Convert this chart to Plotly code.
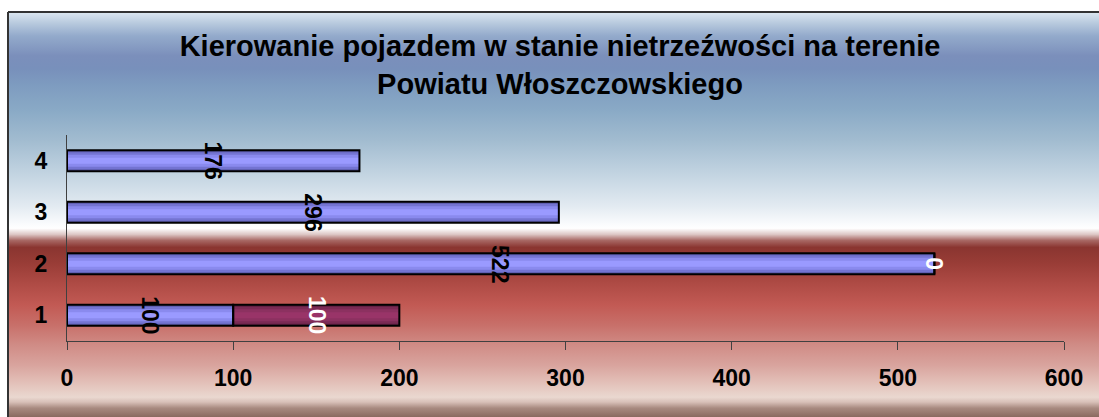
import base64
import plotly.graph_objects as go

# ---- data ----
categories = ["1", "2", "3", "4"]
series1 = [100, 522, 296, 176]
series2 = [100, 0, None, None]
title_lines = ["Kierowanie pojazdem w stanie nietrzeźwości na terenie", "Powiatu Włoszczowskiego"]
x_ticks = [0, 100, 200, 300, 400, 500, 600]

# ---- geometry (px) ----
W, H = 1099, 417
ML, MR, MT, MB = 67, 35, 135, 76
PW, PH = W - ML - MR, H - MT - MB


def px_x(px):
    return (px - ML) / PW


def px_y(py):
    return (H - MB - py) / PH


FONT = "Liberation Sans, Arial, sans-serif"

# background gradient as svg
stops = [
    (0.000, "#dae5ef"), (0.025, "#b8cade"), (0.057, "#93aacb"), (0.106, "#7b8fbb"),
    (0.138, "#7890bb"), (0.180, "#7e9cc0"), (0.242, "#8aaac6"), (0.316, "#a2bcd0"),
    (0.402, "#c4d5e2"), (0.477, "#e2eaf1"), (0.519, "#f8fafc"), (0.533, "#ffffff"),
    (0.548, "#ddc7c5"), (0.563, "#a86864"), (0.580, "#8a3530"), (0.617, "#983c36"),
    (0.674, "#b04c46"), (0.723, "#c25a54"), (0.773, "#c8706a"), (0.822, "#d08c86"),
    (0.872, "#d9a49e"), (0.921, "#e4c4bc"), (0.951, "#ead8d0"), (0.963, "#d8c0b8"),
    (0.978, "#a88a80"), (1.000, "#8a6a60"),
]
svg = ('<svg xmlns="http://www.w3.org/2000/svg" width="100" height="405" '
       'preserveAspectRatio="none" viewBox="0 0 100 405"><defs>'
       '<linearGradient id="g" x1="0" y1="0" x2="0" y2="1">'
       + "".join(f'<stop offset="{o}" stop-color="{c}"/>' for o, c in stops)
       + '</linearGradient></defs><rect x="0" y="0" width="100" height="405" fill="url(#g)"/></svg>')
bg_src = "data:image/svg+xml;base64," + base64.b64encode(svg.encode()).decode()

ycat = [int(c) for c in categories]
base2 = [a if b is not None else None for a, b in zip(series1, series2)]

fig = go.Figure()

layers1 = [(0.41, "#5a5aa8"), (0.33, "#7474d2"), (0.23, "#8a8aee"), (0.12, "#9a9aff")]
layers2 = [(0.41, "#5e1f40"), (0.33, "#7a2a54"), (0.23, "#8c3160"), (0.12, "#993468")]

for w, col in layers1:
    fig.add_trace(go.Bar(y=ycat, x=series1, base=[0] * len(series1), orientation="h",
                         width=w, marker=dict(color=col, line=dict(width=0)),
                         hoverinfo="skip", showlegend=False))
for w, col in layers2:
    fig.add_trace(go.Bar(y=ycat, x=series2, base=base2, orientation="h",
                         width=w, marker=dict(color=col, line=dict(width=0)),
                         hoverinfo="skip", showlegend=False))
# outlines
fig.add_trace(go.Bar(y=ycat, x=series1, base=[0] * len(series1), orientation="h", width=0.41,
                     marker=dict(color="rgba(0,0,0,0)", line=dict(color="black", width=2)),
                     name="Seria1", showlegend=False))
fig.add_trace(go.Bar(y=ycat, x=series2, base=base2, orientation="h", width=0.41,
                     marker=dict(color="rgba(0,0,0,0)", line=dict(color="black", width=2)),
                     name="Seria2", showlegend=False))

annotations = []
for yc, v in zip(ycat, series1):
    annotations.append(dict(x=v / 2, y=yc, xref="x", yref="y", text=str(v), showarrow=False,
                            textangle=90, font=dict(family=FONT, size=23, color="black", weight="bold")))
for yc, b, v in zip(ycat, base2, series2):
    if v is None:
        continue
    annotations.append(dict(x=b + v / 2, y=yc, xref="x", yref="y", text=str(v), showarrow=False,
                            textangle=90, font=dict(family=FONT, size=23, color="white", weight="bold")))

shapes = [
    dict(type="line", xref="paper", yref="paper", x0=px_x(8), x1=px_x(W + 5), y0=px_y(12), y1=px_y(12),
         line=dict(color="#333333", width=2)),
    dict(type="line", xref="paper", yref="paper", x0=px_x(8), x1=px_x(8), y0=px_y(12), y1=px_y(H + 5),
         line=dict(color="#333333", width=2)),
]

fig.update_layout(
    width=W, height=H,
    margin=dict(l=ML, r=MR, t=MT, b=MB, autoexpand=False),
    paper_bgcolor="white", plot_bgcolor="rgba(0,0,0,0)",
    barmode="overlay",
    showlegend=False,
    title=dict(text="<br>".join(title_lines), x=560 / W, xanchor="center",
               y=1 - 56 / H, yanchor="middle",
               font=dict(family=FONT, size=29, color="black", weight="bold")),
    images=[dict(source=bg_src, xref="paper", yref="paper", x=px_x(9), y=px_y(13),
                 sizex=px_x(W) - px_x(9), sizey=px_y(13) - px_y(H), sizing="stretch",
                 xanchor="left", yanchor="top", layer="below")],
    shapes=shapes,
    annotations=annotations,
    xaxis=dict(range=[0, 600], tickvals=x_ticks, ticktext=[str(t) for t in x_ticks],
               showgrid=False, zeroline=False, showline=True, linecolor="#404040", linewidth=1,
               ticks="outside", ticklen=8, tickcolor="#404040", ticklabelstandoff=8,
               tickfont=dict(family=FONT, size=23, color="black", weight="bold")),
    yaxis=dict(range=[0.5, 4.5], tickvals=ycat, ticktext=categories,
               showgrid=False, zeroline=False, showline=True, linecolor="#404040", linewidth=1,
               ticks="", ticklabelstandoff=14,
               tickfont=dict(family=FONT, size=23, color="black", weight="bold")),
)

fig.write_html("out.html", config={"displayModeBar": False},
               post_script="document.body.style.margin='0';document.body.style.overflow='hidden';")
